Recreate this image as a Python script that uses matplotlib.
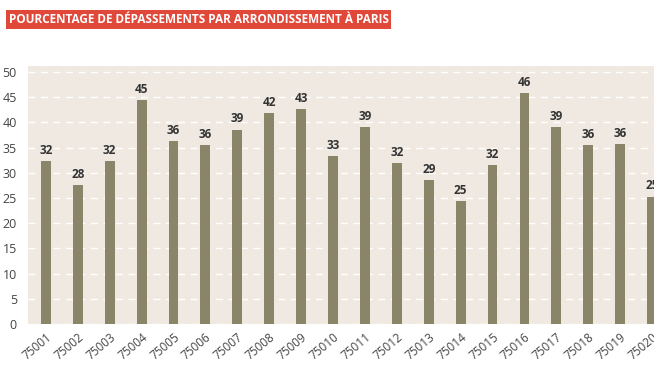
import matplotlib.pyplot as plt

codes = ["75001", "75002", "75003", "75004", "75005", "75006", "75007",
         "75008", "75009", "75010", "75011", "75012", "75013", "75014",
         "75015", "75016", "75017", "75018", "75019", "75020"]
values = [32.3, 27.6, 32.4, 44.5, 36.3, 35.6, 38.6, 41.8, 42.6, 33.4,
          39.0, 32.0, 28.6, 24.5, 31.6, 45.8, 39.0, 35.6, 35.8, 25.3]
labels = [32, 28, 32, 45, 36, 36, 39, 42, 43, 33,
          39, 32, 29, 25, 32, 46, 39, 36, 36, 25]

plt.rcParams['font.family'] = ['Open Sans', 'DejaVu Sans']

fig = plt.figure(figsize=(6.54, 3.68), dpi=100)
ax = fig.add_axes([0.0428, 0.1196, 0.9572, 0.701])
ax.set_facecolor("#efe9e1")

x = range(len(codes))
ax.bar(x, values, width=0.31, color="#8a8468", zorder=3)
# value labels above the bars (the last one runs off the right edge, as in the source)
for i, (v, lab) in enumerate(zip(values, labels)):
    ax.text(i, v + 0.8, str(lab), ha="center", va="bottom", fontsize=8.5,
            fontweight="bold", color="#333333", zorder=4, clip_on=False)

ax.set_xlim(-0.56, 19.06)
ax.set_ylim(0, 51.2)
ax.set_yticks(range(0, 51, 5))
ax.yaxis.grid(True, color="white", linestyle=(0, (5, 4)), linewidth=1, zorder=1)
ax.set_axisbelow(True)

ax.set_xticks(list(x))
ax.set_xticklabels(codes, rotation=40, ha="right", rotation_mode="anchor",
                   fontsize=8.5, color="#444444")
ax.tick_params(axis="x", length=0, pad=5)
ax.tick_params(axis="y", length=0, pad=8, labelsize=9, labelcolor="#444444")
for s in ax.spines.values():
    s.set_visible(False)

fig.text(0.013, 0.948, "POURCENTAGE DE DÉPASSEMENTS PAR ARRONDISSEMENT À PARIS",
         fontsize=8.5, fontweight="bold", color="white", va="center", ha="left",
         bbox=dict(boxstyle="square,pad=0.25", facecolor="#e0483a", edgecolor="none"))

fig.savefig("out.png", dpi=100)
